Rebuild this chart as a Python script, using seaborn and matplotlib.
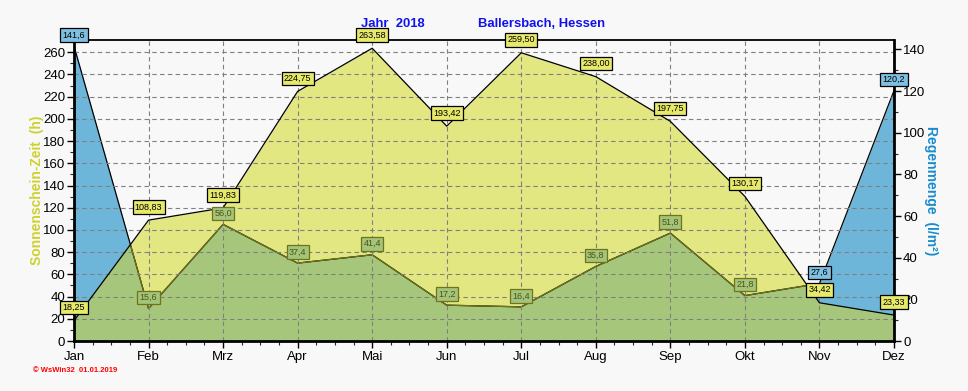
import numpy as np
import pandas as pd
import seaborn as sns
import matplotlib.pyplot as plt

# Monatswerte 2018, Ballersbach
monate = ['Jan', 'Feb', 'Mrz', 'Apr', 'Mai', 'Jun', 'Jul', 'Aug', 'Sep', 'Okt', 'Nov', 'Dez']
sonne = [18.25, 108.83, 119.83, 224.75, 263.58, 193.42, 259.50, 238.00, 197.75, 130.17, 34.42, 23.33]
regen = [141.6, 15.6, 56.0, 37.4, 41.4, 17.2, 16.4, 35.8, 51.8, 21.8, 27.6, 120.2]

df = pd.DataFrame({'pos': range(len(monate)), 'monat': monate, 'sonne': sonne, 'regen': regen})

sns.set_style('ticks')
plt.rcParams['font.family'] = ['Liberation Sans', 'DejaVu Sans']

BG = '#f8f8f8'
GELB = '#e3e782'
BLAU = '#6eb6d9'
GRUEN = '#a6c77b'
OLIV = '#6f7418'

S_MAX, R_MAX = 271, 144.5

fig = plt.figure(figsize=(9.68, 3.91), dpi=100, facecolor=BG)
ax = fig.add_axes([74 / 968, 50 / 391, 820 / 968, 301 / 391], facecolor=BG)
ax2 = ax.twinx()   # Regen
ax3 = ax.twinx()   # Sonne-Linie, Gitter, Beschriftungen oben

# Flaechen
sonnen_flaeche = ax.fill_between(df['pos'], df['sonne'], color=GELB, lw=0)
ax2.fill_between(df['pos'], df['regen'], color=BLAU, lw=0)
gruen = ax2.fill_between(df['pos'], df['regen'], color=GRUEN, lw=0)
gruen.set_clip_path(sonnen_flaeche.get_paths()[0], ax.transData)

# Linien
sns.lineplot(data=df, x='pos', y='regen', ax=ax2, color='black', lw=0.9)
oliv_linie = ax2.plot(df['pos'], df['regen'], color=OLIV, lw=0.9)[0]
oliv_linie.set_clip_path(sonnen_flaeche.get_paths()[0], ax.transData)
sns.lineplot(data=df, x='pos', y='sonne', ax=ax3, color='black', lw=0.9)

for a in (ax, ax2, ax3):
    a.set_xlim(0, 11)
    a.set_xlabel('')
ax.set_ylim(0, S_MAX)
ax3.set_ylim(0, S_MAX)
ax2.set_ylim(0, R_MAX)

# Achsen / Ticks
ax.set_xticks(df['pos'])
ax.set_xticklabels(monate)
ax.set_xticks(np.arange(0, 11.01, 0.25), minor=True)
ax.set_yticks(np.arange(0, 261, 20))
ax.set_yticks(np.arange(0, 271, 10), minor=True)
ax2.set_yticks(np.arange(0, 141, 20))
ax2.set_yticks(np.arange(0, 145, 10), minor=True)
for a in (ax, ax2):
    a.tick_params(which='major', direction='out', length=5, width=1, labelsize=9.5,
                  colors='black', pad=1.5)
    a.tick_params(which='minor', direction='out', length=3, width=0.8)
ax.tick_params(axis='x', pad=2)

ax.set_ylabel('Sonnenschein-Zeit  (h)', color='#cdd12c', fontsize=10, fontweight='bold')
ax.yaxis.set_label_coords(-0.037, 0.5)
ax2.set_ylabel('Regenmenge  (l/m²)', color='#1a8ccc', fontsize=10, fontweight='bold',
               rotation=270, labelpad=9)
ax3.set_ylabel('')

# Gitter auf oberster Ebene
ax3.xaxis.set_visible(True)
ax3.set_xticks(df['pos'])
ax3.set_yticks(np.arange(0, 261, 20))
ax3.tick_params(axis='both', which='both', length=0, labelbottom=False, labelleft=False, labelright=False)
ax3.grid(True, color='#808080', linestyle=(0, (4, 3)), lw=0.8)

for a in (ax, ax2):
    for s in a.spines.values():
        s.set_visible(False)
for name, lw in [('left', 2), ('right', 2), ('bottom', 2), ('top', 1.3)]:
    ax3.spines[name].set_visible(True)
    ax3.spines[name].set_linewidth(lw)
    ax3.spines[name].set_color('black')

# Werte-Kaestchen
def kasten(text, xy, trans, fc, ec, tc, dy):
    ax3.annotate(text, xy=xy, xycoords=trans, xytext=(0, dy), textcoords='offset pixels',
                 ha='center', va='center', fontsize=6.5, color=tc, annotation_clip=False,
                 bbox=dict(boxstyle='square,pad=0.25', fc=fc, ec=ec, lw=0.9))

for i, row in df.iterrows():
    kasten(f"{row['sonne']:.2f}".replace('.', ','), (row['pos'], row['sonne']), ax.transData,
           '#e6e96a', 'black', 'black', 13)
    ueber = row['regen'] * S_MAX / R_MAX > row['sonne']
    if ueber:
        kasten(f"{row['regen']:.1f}".replace('.', ','), (row['pos'], row['regen']), ax2.transData,
               '#7fbfe2', 'black', 'black', 11)
    else:
        kasten(f"{row['regen']:.1f}".replace('.', ','), (row['pos'], row['regen']), ax2.transData,
               '#a3c47a', '#6f7418', '#4f5410', 11)

# Titel
fig.text(393 / 968, 1 - 24 / 391, 'Jahr  2018', color='#1010ee', fontsize=9.4, fontweight='bold',
         ha='center', va='center')
fig.text(541 / 968, 1 - 24 / 391, 'Ballersbach, Hessen', color='#1010ee', fontsize=9.4,
         fontweight='bold', ha='center', va='center')
fig.text(33 / 968, 1 - 371 / 391, '© WsWin32  01.01.2019', color='red', fontsize=5.5,
         fontweight='bold', ha='left', va='center')

plt.savefig('out.png', dpi=100, facecolor=BG)
